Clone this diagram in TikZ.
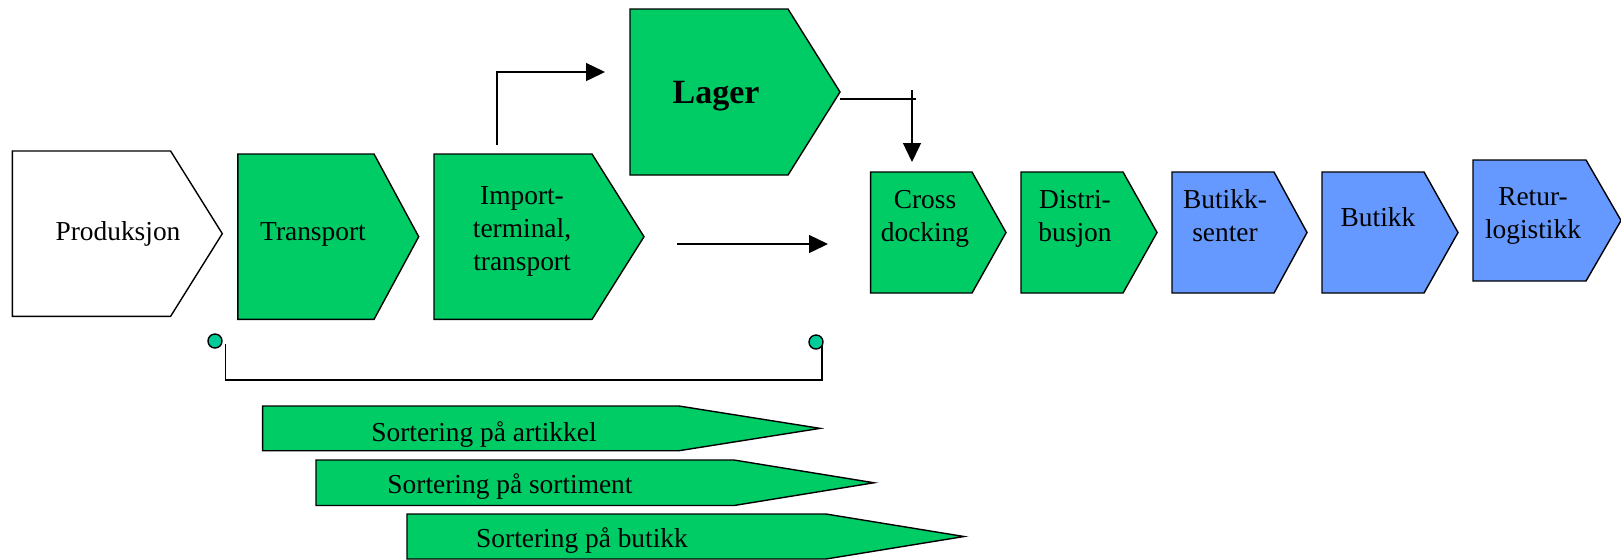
\documentclass[tikz,border=0pt]{standalone}
\usepackage{fontspec}
\setmainfont{Liberation Serif}
\usetikzlibrary{arrows.meta}
\definecolor{pgreen}{HTML}{00CC66}
\definecolor{pblue}{HTML}{6699FF}
\definecolor{pteal}{HTML}{00CC99}
\tikzset{
  shapeline/.style={draw=black, line width=0.7pt, line join=miter},
  lbl/.style={font=\fontsize{13.7}{16.5}\selectfont, align=center, inner sep=0pt},
  biglbl/.style={font=\fontsize{17}{20}\selectfont\bfseries, inner sep=0pt},
  conn/.style={line width=0.7pt, -{Triangle[length=9.5pt,width=9pt]}},
  plainline/.style={line width=0.7pt},
  dotnode/.style={circle, draw=black, fill=pteal, line width=0.7pt, minimum size=7pt, inner sep=0pt},
}
% name, fill, left, rectright, tip, top, bottom
\newcommand{\chev}[7]{%
  \draw[shapeline, fill=#2] (#3,#6) -- (#4,#6) -- (#5,{(#6+#7)/2}) -- (#4,#7) -- (#3,#7) -- cycle;
  \coordinate (#1-tip) at (#5,{(#6+#7)/2});
}
\begin{document}
\begin{tikzpicture}[x=0.5pt, y=-0.5pt]
\useasboundingbox (0,0) rectangle (1621,559);

% main chain
\chev{prod}{white}{12.4}{170.6}{222.3}{151}{316.3}
\chev{trans}{pgreen}{237.8}{374}{418.7}{154}{319.4}
\chev{imp}{pgreen}{434}{592}{644}{154}{319.4}
\chev{lager}{pgreen}{630}{788}{840}{9}{175}
\chev{cross}{pgreen}{870.6}{972}{1006}{172}{293}
\chev{distr}{pgreen}{1021}{1123}{1157}{172}{293}
\chev{bsent}{pblue}{1172}{1274}{1307}{172}{293}
\chev{butikk}{pblue}{1322}{1424}{1458}{172}{293}
\chev{retur}{pblue}{1473}{1586}{1621}{160}{281}

\node[lbl] (tprod) at (118,234) {Produksjon};
\node[lbl] (ttrans) at (313,234) {Transport};
\node[lbl] (timp) at (522,231) {Import-\\terminal,\\transport};
\node[biglbl] (tlager) at (716,96) {Lager};
\node[lbl] (tcross) at (925,218.5) {Cross\\docking};
\node[lbl] (tdistr) at (1075,218.5) {Distri-\\busjon};
\node[lbl] (tbsent) at (1225,216) {Butikk-\\senter};
\node[lbl] (tbutikk) at (1378,217) {Butikk};
\node[lbl] (tretur) at (1533,216) {Retur-\\logistikk};

% connectors
\coordinate (impout) at (497,145);
\coordinate (lagerin) at (605,72);
\draw[conn] (impout) |- (lagerin);

\coordinate (lagerout) at (840,99);
\coordinate (lagerend) at (916,99);
\draw[plainline] (lagerout) -- (lagerend);
\coordinate (downstart) at (912,90);
\coordinate (crossin) at (912,162);
\draw[conn] (downstart) -- (crossin);

\coordinate (midstart) at (677,244);
\coordinate (midend) at (828,244);
\draw[conn] (midstart) -- (midend);

% bracket
\coordinate (bl) at (225.7,344);
\coordinate (br) at (822,344);
\draw[plainline] (bl) -- (225.7,380) -- (822,380) -- (br);
\node[dotnode] (dotl) at (215,341) {};
\node[dotnode] (dotr) at (816,342) {};

% sorting bars
\chev{bar1}{pgreen}{262.6}{679}{820}{406}{450.7}
\chev{bar2}{pgreen}{316}{734}{874}{460}{505.5}
\chev{bar3}{pgreen}{407}{826}{964}{514}{559}
\node[lbl] (tbar1) at (484,435) {Sortering på artikkel};
\node[lbl] (tbar2) at (510,487) {Sortering på sortiment};
\node[lbl] (tbar3) at (582,541) {Sortering på butikk};
\end{tikzpicture}
\end{document}
